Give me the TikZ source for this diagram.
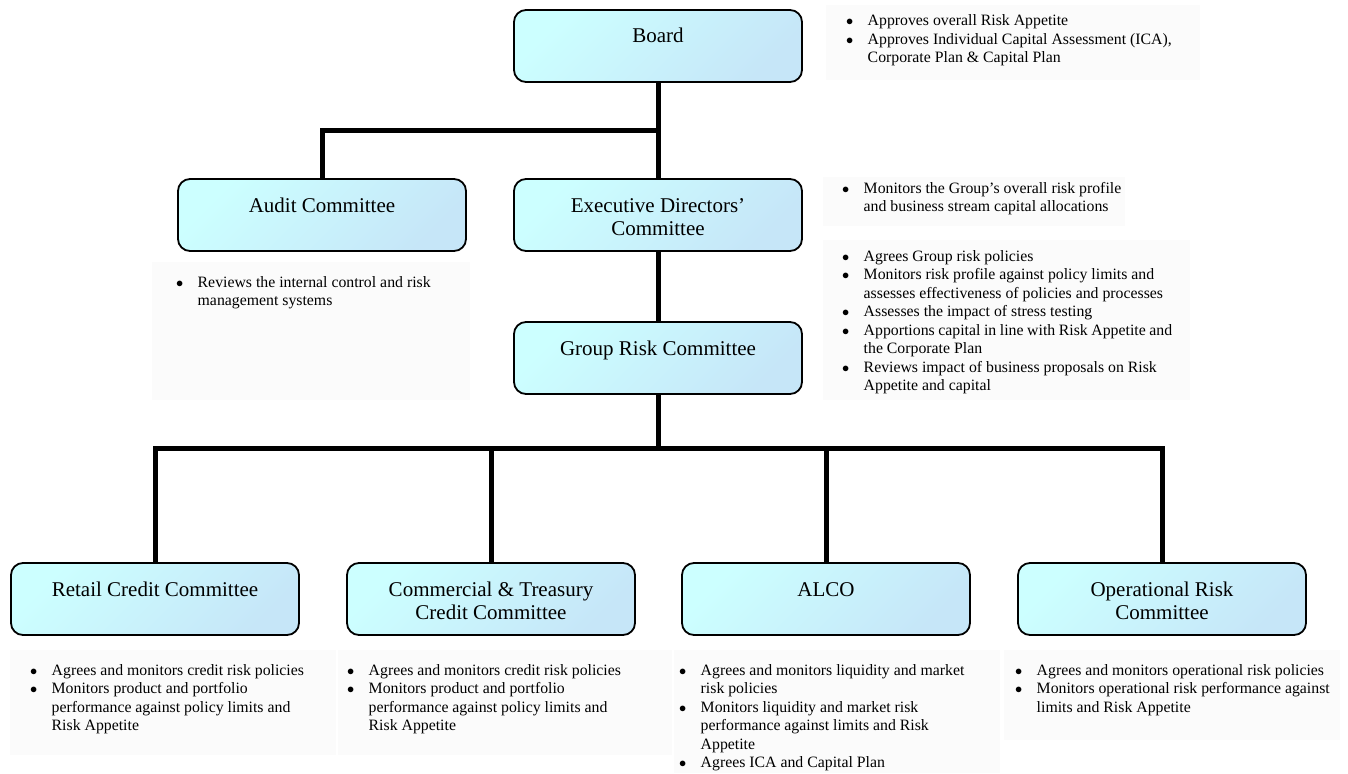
\documentclass[tikz,border=0pt]{standalone}
\usepackage{fontspec}
\setmainfont{Liberation Serif}
\definecolor{boxA}{HTML}{CCFFFF}
\definecolor{boxB}{HTML}{C6E6F8}
\definecolor{notebg}{HTML}{FBFBFB}
\newcommand{\btxt}[1]{\parbox[c][56pt][t]{272pt}{\centering\fontsize{21}{23}\selectfont\rule{0pt}{25pt}#1}}
\newcommand{\bitem}[1]{\par\hangindent=21.5pt\hangafter=1\noindent\makebox[21.5pt][l]{$\bullet$}#1}
\newcommand{\notes}[1]{\parbox[t]{330pt}{\fontsize{15.8}{18.5}\selectfont\raggedright #1}}
\begin{document}
\begin{tikzpicture}[x=1pt,y=-1pt,
  cbox/.style={draw=black, line width=1.8pt, rounded corners=12pt, left color=boxA, right color=boxB, shading angle=45, minimum width=288pt, minimum height=72pt, inner sep=0pt},
  conn/.style={line width=5pt, draw=black},
  note/.style={anchor=base west, inner sep=0pt}]
\useasboundingbox (0,0) rectangle (1348,773);
\fill[white] (0,0) rectangle (1348,773);
% faint note backgrounds
\fill[notebg] (826,5) rectangle (1200,80);
\fill[notebg] (823,177) rectangle (1125,226);
\fill[notebg] (823,240) rectangle (1190,400);
\fill[notebg] (152,262) rectangle (470,400);
\fill[notebg] (10,650) rectangle (336,755);
\fill[notebg] (338,650) rectangle (672,755);
\fill[notebg] (674,650) rectangle (1000,773);
\fill[notebg] (1004,650) rectangle (1340,740);
% boxes
\node[cbox] (board) at (658,46) {\btxt{Board}};
\node[cbox] (audit) at (322,215) {\btxt{Audit Committee}};
\node[cbox] (exec) at (658,215) {\btxt{Executive Directors'\\Committee}};
\node[cbox] (grc) at (658,358) {\btxt{Group Risk Committee}};
\node[cbox] (retail) at (155,599) {\btxt{Retail Credit Committee}};
\node[cbox] (comm) at (491,599) {\btxt{Commercial \& Treasury\\Credit Committee}};
\node[cbox] (alco) at (826,599) {\btxt{ALCO}};
\node[cbox] (oper) at (1162,599) {\btxt{Operational Risk\\Committee}};
% connectors
\coordinate (j1) at (658,130);
\coordinate (j2) at (658,448);
\draw[conn] (board.south) -- (exec.north);
\draw[conn] (j1) -| (audit.north);
\draw[conn] (exec.south) -- (grc.north);
\draw[conn] (grc.south) -- (j2);
\draw[conn] (j2) -| (retail.north);
\draw[conn] (j2) -| (comm.north);
\draw[conn] (j2) -| (alco.north);
\draw[conn] (j2) -| (oper.north);
% notes
\node[note] (boardnotes) at (846,26) {\notes{\bitem{Approves overall Risk Appetite}\bitem{Approves Individual Capital Assessment (ICA),\newline Corporate Plan \& Capital Plan}}};
\node[note] (execnotes) at (842,193) {\notes{\bitem{Monitors the Group's overall risk profile\newline and business stream capital allocations}}};
\node[note] (grcnotes) at (842,261) {\notes{\bitem{Agrees Group risk policies}\bitem{Monitors risk profile against policy limits and\newline assesses effectiveness of policies and processes}\bitem{Assesses the impact of stress testing}\bitem{Apportions capital in line with Risk Appetite and\newline the Corporate Plan}\bitem{Reviews impact of business proposals on Risk\newline Appetite and capital}}};
\node[note] (auditnotes) at (176,287) {\notes{\bitem{Reviews the internal control and risk\newline management systems}}};
\node[note] (retailnotes) at (30,675) {\notes{\bitem{Agrees and monitors credit risk policies}\bitem{Monitors product and portfolio\newline performance against policy limits and\newline Risk Appetite}}};
\node[note] (commnotes) at (347,675) {\notes{\bitem{Agrees and monitors credit risk policies}\bitem{Monitors product and portfolio\newline performance against policy limits and\newline Risk Appetite}}};
\node[note] (alconotes) at (679,675) {\notes{\bitem{Agrees and monitors liquidity and market\newline risk policies}\bitem{Monitors liquidity and market risk\newline performance against limits and Risk\newline Appetite}\bitem{Agrees ICA and Capital Plan}}};
\node[note] (opernotes) at (1015,675) {\notes{\bitem{Agrees and monitors operational risk policies}\bitem{Monitors operational risk performance against\newline limits and Risk Appetite}}};
\end{tikzpicture}
\end{document}
